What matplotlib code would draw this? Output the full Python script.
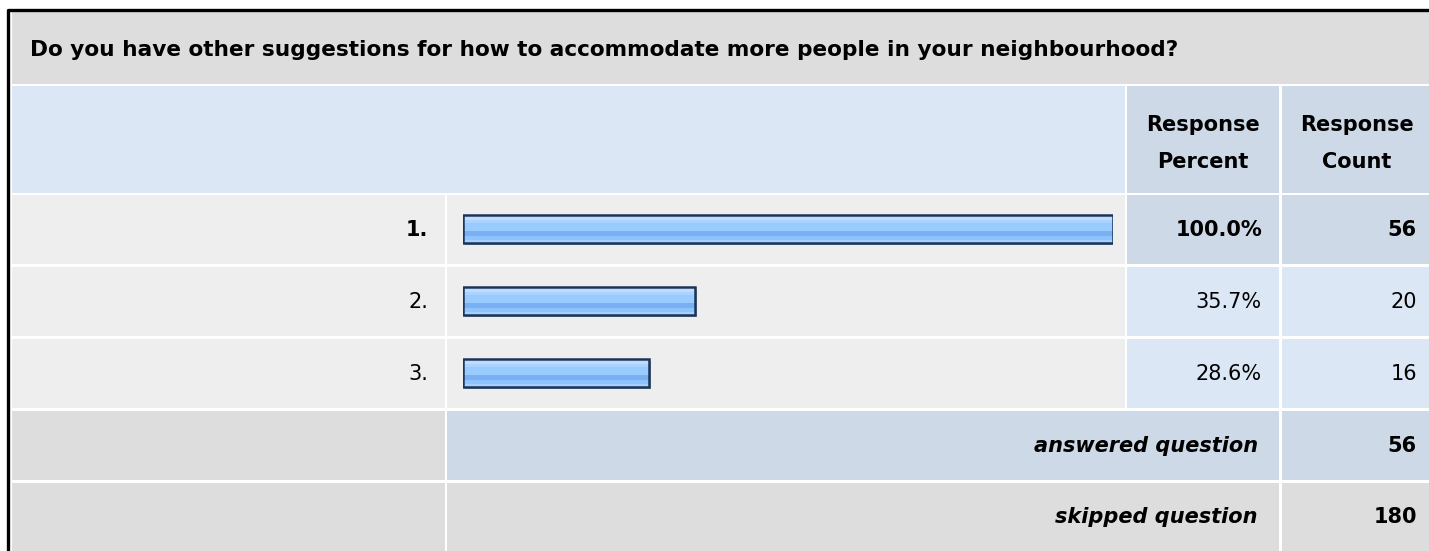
import matplotlib
matplotlib.use('Agg')
import matplotlib.pyplot as plt
from matplotlib.patches import Rectangle
import matplotlib.patheffects as pe

# data
question = 'Do you have other suggestions for how to accommodate more people in your neighbourhood?'
labels = ['1.', '2.', '3.']
percents = [100.0, 35.7, 28.6]
counts = [56, 20, 16]
answered = 56
skipped = 180

# colours
GRAY = '#dddddd'
ROW = '#eeeeee'
LIGHT = '#dce7f5'
DARK = '#cdd9e6'
FS = 15

fig = plt.figure(figsize=(14.29, 5.51), dpi=100)
ax = fig.add_axes([0, 0, 1, 1])
ax.set_xlim(0, 1429)
ax.set_ylim(551, 0)
ax.axis('off')

def cell(x0, x1, y0, y1, c):
    ax.add_patch(Rectangle((x0, y0), x1 - x0, y1 - y0, facecolor=c, edgecolor='none'))

# column / row edges in pixels
cA = (12, 445)
cB = (447, 1125)
cC = (1127, 1279)
cD = (1282, 1429)
rows = [(195, 264), (267, 336), (339, 408)]

# outer border
ax.plot([8.5, 8.5, 1429], [551, 9.5, 9.5], color='black', lw=2.4, solid_capstyle='butt')

# title
cell(12, 1429, 12, 84, GRAY)
ax.text(30, 50, question, fontsize=15.6, fontweight='bold', va='center', ha='left')

# header
cell(12, 1125, 86, 193, LIGHT)
cell(*cC, 86, 193, DARK)
cell(*cD, 86, 193, DARK)
for xc, word in [(1203, 'Percent'), (1357, 'Count')]:
    ax.text(xc, 125, 'Response', fontsize=FS, fontweight='bold', ha='center', va='center')
    ax.text(xc, 162, word, fontsize=FS, fontweight='bold', ha='center', va='center')

# answer rows
for i, (y0, y1) in enumerate(rows):
    cell(*cA, y0, y1, ROW)
    cell(*cB, y0, y1, ROW)
    c = DARK if i == 0 else LIGHT
    cell(*cC, y0, y1, c)
    cell(*cD, y0, y1, c)
    yc = (y0 + y1) / 2
    w = 'bold' if i == 0 else 'normal'
    ax.text(428, yc, labels[i], fontsize=FS, fontweight=w, ha='right', va='center')
    ax.text(1262, yc, f'{percents[i]:.1f}%', fontsize=FS, fontweight=w, ha='right', va='center')
    ax.text(1417, yc, str(counts[i]), fontsize=FS, fontweight=w, ha='right', va='center')

# summary rows
cell(*cA, 411, 480, GRAY)
cell(447, 1279, 411, 480, DARK)
cell(*cD, 411, 480, DARK)
ax.text(1258, 446, 'answered question', fontsize=FS, fontweight='bold', style='italic', ha='right', va='center')
ax.text(1417, 446, str(answered), fontsize=FS, fontweight='bold', ha='right', va='center')

cell(*cA, 483, 551, GRAY)
cell(447, 1279, 483, 551, GRAY)
cell(*cD, 483, 551, GRAY)
ax.text(1258, 517, 'skipped question', fontsize=FS, fontweight='bold', style='italic', ha='right', va='center')
ax.text(1417, 517, str(skipped), fontsize=FS, fontweight='bold', ha='right', va='center')

# bars
bax = fig.add_axes([463 / 1429, 1 - 409 / 551, 650 / 1429, 216 / 551])
bax.set_xlim(0, 100)
bax.set_ylim(2.5, -0.5)
bax.axis('off')
ypos = list(range(len(percents)))
h = 0.40
base = bax.barh(ypos, percents, height=h, left=0, color='#9acbff', edgecolor='none')
for b in base:
    b.set_path_effects([pe.SimplePatchShadow(offset=(1.5, -1.5), shadow_rgbFace='#8a96a6', alpha=0.7), pe.Normal()])
# stripes (fraction of bar height from top)
stripes = [(0.00, 0.10, '#d6ebff'), (0.10, 0.20, '#bddcff'), (0.20, 0.30, '#aad3ff'),
           (0.56, 0.76, '#78b0f2'), (0.76, 0.89, '#8fc3ff'), (0.89, 1.00, '#a6d1ff')]
for f0, f1, c in stripes:
    bax.barh([y - h / 2 + h * (f0 + f1) / 2 for y in ypos], percents, height=h * (f1 - f0), color=c, edgecolor='none')
bax.barh(ypos, percents, height=h, facecolor='none', edgecolor='#1c3458', linewidth=1.8)

fig.savefig('out.png', dpi=100)
